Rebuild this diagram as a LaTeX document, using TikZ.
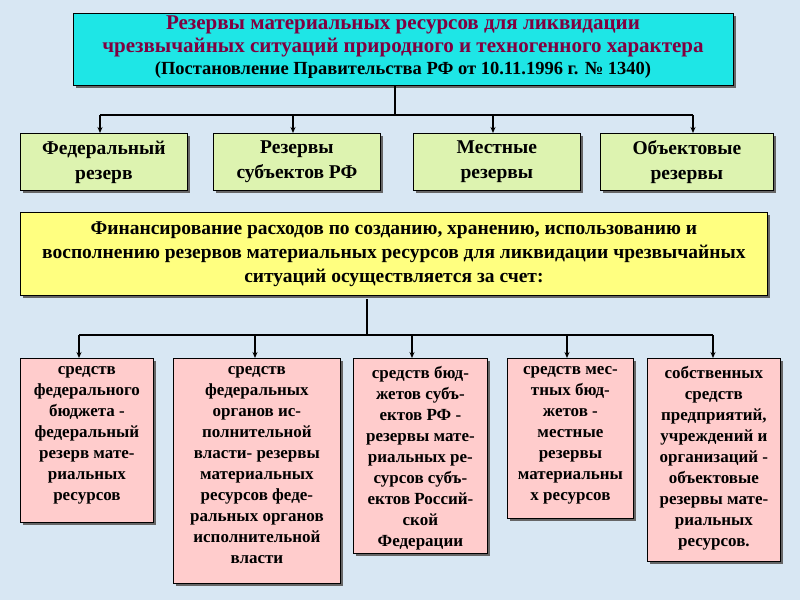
\documentclass[tikz,border=0pt]{standalone}
\usepackage{fontspec}
\setmainfont{Liberation Serif}
\usetikzlibrary{arrows.meta,calc}
\definecolor{bg}{HTML}{D8E7F3}
\definecolor{cy}{HTML}{1EE6E6}
\definecolor{gr}{HTML}{DDF3B0}
\definecolor{ye}{HTML}{FFFF80}
\definecolor{pk}{HTML}{FFCCCC}
\definecolor{ttl}{HTML}{800040}
\tikzset{
 bx/.style={draw=black,line width=0.8pt,inner sep=0pt,align=center,font=\bfseries},
 conn/.style={line width=1.6pt,-{Stealth[length=6pt,width=5pt]}},
 ln/.style={line width=1.6pt}
}
\begin{document}
\begin{tikzpicture}[x=1pt,y=-1pt]
\fill[bg] (0,0) rectangle (800,600);
\useasboundingbox (0,0) rectangle (800,600);
\newcommand{\bbox}[6]{\fill[black!60] (#2+3,#3+3) rectangle (#4+3,#5+3);
\node[bx,fill=#6,minimum width=#4-#2,minimum height=#5-#3,anchor=north west] (#1) at (#2,#3) {};}
\bbox{t}{73}{13}{733}{85}{cy}
\node[align=center,font=\bfseries\fontsize{21}{23}\selectfont,text=ttl] (tt) at (403,36) {Резервы материальных ресурсов для ликвидации\\чрезвычайных ситуаций природного и техногенного характера};
\node[font=\bfseries\fontsize{18.5}{21}\selectfont] (ts) at (403,70) {(Постановление Правительства РФ от 10.11.1996 г. № 1340)};
\bbox{g1}{20}{133}{187}{190}{gr}
\bbox{g2}{213}{133}{380}{190}{gr}
\bbox{g3}{413}{133}{580}{190}{gr}
\bbox{g4}{600}{133}{773}{190}{gr}
\foreach \n/\t in {g1/{Федеральный\\резерв},g2/{Резервы\\субъектов РФ},g3/{Местные\\резервы},g4/{Объектовые\\резервы}}
 \node[align=center,font=\bfseries\fontsize{19.5}{25}\selectfont] at (\n.center) {\t};
\coordinate (j1) at (395,115);
\draw[ln] (395,85) -- (j1);
\draw[ln] (100,115) -- (693,115);
\foreach \x/\n in {100/g1,293/g2,493/g3,693/g4} \draw[conn] (\x,115) -- (\n.north -| \x,0);
\bbox{y}{20}{212}{767}{295}{ye}
\node[align=center,font=\bfseries\fontsize{19.5}{24}\selectfont] at (y.center) {Финансирование расходов по созданию, хранению, использованию и\\восполнению резервов материальных ресурсов для ликвидации чрезвычайных\\ситуаций осуществляется за счет:};
\draw[ln] (367,299) -- (367,335);
\draw[ln] (79,335) -- (713,335);
\bbox{p1}{20}{358}{153}{522}{pk}
\bbox{p2}{173}{358}{340}{583}{pk}
\bbox{p3}{353}{358}{487}{553}{pk}
\bbox{p4}{507}{358}{633}{518}{pk}
\bbox{p5}{647}{358}{780}{561}{pk}
\foreach \x/\n in {79/p1,255/p2,412/p3,567/p4,713/p5} \draw[conn] (\x,335) -- (\n.north -| \x,0);
\tikzset{pt/.style={anchor=north,align=center,font=\bfseries\fontsize{17}{21}\selectfont}}
\node[pt] at ($(p1.north)+(0,5)$) {средств\\федерального\\бюджета -\\федеральный\\резерв мате-\\риальных\\ресурсов};
\node[pt] at ($(p2.north)+(0,5)$) {средств\\федеральных\\органов ис-\\полнительной\\власти- резервы\\материальных\\ресурсов феде-\\ральных органов\\исполнительной\\власти};
\node[pt] at ($(p3.north)+(0,5)$) {средств бюд-\\жетов субъ-\\ектов РФ -\\резервы мате-\\риальных ре-\\сурсов субъ-\\ектов Россий-\\ской\\Федерации};
\node[pt] at ($(p4.north)+(0,5)$) {средств мес-\\тных бюд-\\жетов -\\местные\\резервы\\материальны\\х ресурсов};
\node[pt] at ($(p5.north)+(0,5)$) {собственных\\средств\\предприятий,\\учреждений и\\организаций -\\объектовые\\резервы мате-\\риальных\\ресурсов.};
\end{tikzpicture}
\end{document}
